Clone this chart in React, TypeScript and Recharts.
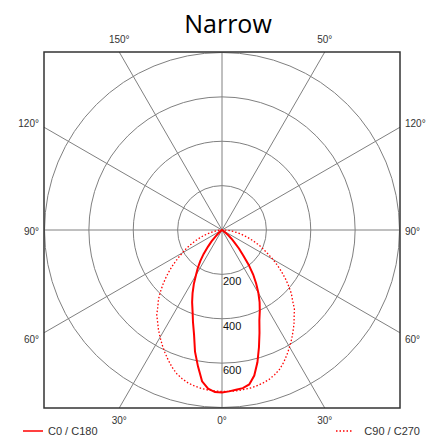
import React from 'react';
import {
  RadarChart,
  Radar,
  PolarGrid,
  PolarAngleAxis,
  PolarRadiusAxis,
  Legend,
  Customized
} from 'recharts';

// gamma angles, 0 = straight down, increasing towards the right
const gammaAngles = [
  0, 2.5, 5, 7.5, 10, 12.5, 15, 17.5, 20, 22.5, 25, 27.5,
  30, 32.5, 35, 37.5, 40, 42.5, 45, 47.5, 50, 52.5, 55, 57.5,
  60, 62.5, 65, 67.5, 70, 72.5, 75, 77.5, 80, 82.5, 85, 87.5,
  90, 92.5, 95, 97.5, 100, 102.5, 105, 107.5, 110, 112.5, 115, 117.5,
  120, 122.5, 125, 127.5, 130, 132.5, 135, 137.5, 140, 142.5, 145, 147.5,
  150, 152.5, 155, 157.5, 160, 162.5, 165, 167.5, 170, 172.5, 175, 177.5,
  180, 182.5, 185, 187.5, 190, 192.5, 195, 197.5, 200, 202.5, 205, 207.5,
  210, 212.5, 215, 217.5, 220, 222.5, 225, 227.5, 230, 232.5, 235, 237.5,
  240, 242.5, 245, 247.5, 250, 252.5, 255, 257.5, 260, 262.5, 265, 267.5,
  270, 272.5, 275, 277.5, 280, 282.5, 285, 287.5, 290, 292.5, 295, 297.5,
  300, 302.5, 305, 307.5, 310, 312.5, 315, 317.5, 320, 322.5, 325, 327.5,
  330, 332.5, 335, 337.5, 340, 342.5, 345, 347.5, 350, 352.5, 355, 357.5
];

// C0 / C180 intensity (cd)
const c0c180 = [
  728, 723, 719, 707, 672, 617, 554, 494, 440, 403, 367, 328,
  287, 245, 197, 148, 113, 80, 58, 37, 22, 10, 0, 0,
  0, 0, 0, 0, 0, 0, 0, 0, 0, 0, 0, 0,
  0, 0, 0, 0, 0, 0, 0, 0, 0, 0, 0, 0,
  0, 0, 0, 0, 0, 0, 0, 0, 0, 0, 0, 0,
  0, 0, 0, 0, 0, 0, 0, 0, 0, 0, 0, 0,
  0, 0, 0, 0, 0, 0, 0, 0, 0, 0, 0, 0,
  0, 0, 0, 0, 0, 0, 0, 0, 0, 0, 0, 0,
  0, 0, 0, 0, 0, 0, 0, 0, 0, 0, 0, 0,
  0, 0, 0, 0, 0, 0, 0, 0, 0, 0, 0, 0,
  0, 0, 0, 10, 22, 42, 70, 99, 136, 170, 203, 235,
  275, 314, 352, 388, 435, 487, 562, 624, 688, 718, 731, 732
];

// C90 / C270 intensity (cd)
const c90c270 = [
  728, 728, 726, 724, 720, 714, 706, 694, 679, 658, 634, 609,
  584, 558, 533, 506, 483, 450, 424, 392, 360, 328, 296, 265,
  234, 207, 182, 157, 133, 110, 90, 70, 52, 36, 22, 10,
  0, 0, 0, 0, 0, 0, 0, 0, 0, 0, 0, 0,
  0, 0, 0, 0, 0, 0, 0, 0, 0, 0, 0, 0,
  0, 0, 0, 0, 0, 0, 0, 0, 0, 0, 0, 0,
  0, 0, 0, 0, 0, 0, 0, 0, 0, 0, 0, 0,
  0, 0, 0, 0, 0, 0, 0, 0, 0, 0, 0, 0,
  0, 0, 0, 0, 0, 0, 0, 0, 0, 0, 0, 0,
  0, 10, 22, 36, 52, 70, 90, 110, 133, 157, 182, 207,
  234, 265, 296, 328, 360, 392, 424, 450, 483, 506, 533, 558,
  584, 609, 634, 658, 679, 694, 706, 714, 720, 724, 726, 728
];

const radiusTicks = [200, 400, 600];
const rayAngles = [0, 30, 60, 90, 120, 150, 180, 210, 240, 270, 300, 330];
const rayLabels = ['0°', '30°', '60°', '90°', '120°', '50°', '', '150°', '120°', '90°', '60°', '30°'];
const seriesNames = ['C0 / C180', 'C90 / C270'];

const data = gammaAngles.map((angle, i) => ({
  angle,
  c0: c0c180[i],
  c90: c90c270[i]
}));

const CX = 222;
const CY = 230;
const OUTER = 177.5;
const HALF = 178;
const LABEL_FONT = '"Liberation Sans", Arial, sans-serif';

const Frame = () => (
  <g>
    <text x={228} y={33} textAnchor="middle" fontSize={25} fontFamily='"Open Sans", sans-serif' fill="#000">
      Narrow
    </text>
    {rayAngles.map((deg, i) => {
      const s = Math.sin((deg * Math.PI) / 180);
      const c = Math.cos((deg * Math.PI) / 180);
      const t = HALF / Math.max(Math.abs(s), Math.abs(c));
      const x = CX + s * t;
      const y = CY + c * t;
      let lx = x;
      let ly = y;
      let anchor: 'start' | 'middle' | 'end' = 'middle';
      if (Math.abs(c) >= Math.abs(s) - 1e-6) {
        ly = c > 0 ? y + 16 : y - 9;
      } else {
        const dir = Math.abs(c) < 1e-6 ? 0 : Math.sign(c);
        anchor = s < 0 ? 'end' : 'start';
        lx = s < 0 ? x - 5 : x + 5;
        ly = y + 5 + dir * 5;
      }
      return (
        <g key={`ray-${deg}`}>
          <line x1={CX} y1={CY} x2={x} y2={y} stroke="#808080" strokeWidth={1} />
          {rayLabels[i] && (
            <text x={lx} y={ly} textAnchor={anchor} fontSize={10} fontFamily={LABEL_FONT} fill="#333">
              {rayLabels[i]}
            </text>
          )}
        </g>
      );
    })}
    <rect x={CX - HALF} y={CY - HALF} width={HALF * 2} height={HALF * 2} fill="none" stroke="#333" strokeWidth={1.5} />
  </g>
);

const RadiusTick = ({ x, y, payload }: any) => {
  if (!radiusTicks.includes(payload.value)) return <g />;
  return (
    <text x={x + 1} y={y + 11} textAnchor="start" fontSize={11} fontFamily={LABEL_FONT} fill="#111">
      {payload.value}
    </text>
  );
};

const LegendContent = ({ payload }: any) => {
  const items = payload || [];
  return (
    <div style={{ position: 'relative', width: 440, height: 14, fontFamily: LABEL_FONT, fontSize: 11, color: '#333' }}>
      {items.map((item: any, i: number) => {
        const left = i === 0;
        return (
          <div
            key={`leg-${i}`}
            style={{
              position: 'absolute',
              top: 0,
              left: left ? 23 : undefined,
              right: left ? undefined : 20,
              display: 'flex',
              alignItems: 'center',
              whiteSpace: 'nowrap'
            }}
          >
            <svg width={20} height={14} style={{ marginRight: left ? 5 : 8 }}>
              <line
                x1={0}
                y1={7}
                x2={left ? 20 : 17}
                y2={7}
                stroke="#ff0000"
                strokeWidth={1.5}
                strokeDasharray={left ? undefined : '1.5 2'}
              />
            </svg>
            <span>{item.value}</span>
          </div>
        );
      })}
    </div>
  );
};

export default function App() {
  return (
    <div style={{ position: 'absolute', left: 0, top: 0, width: 440, height: 437, background: '#fff' }}>
      <RadarChart
        width={440}
        height={437}
        data={data}
        cx={CX}
        cy={CY}
        outerRadius={OUTER}
        startAngle={-90}
        endAngle={270}
        margin={{ top: 0, right: 0, bottom: 0, left: 0 }}
      >
        <Customized component={<Frame />} />
        <PolarGrid gridType="circle" radialLines={false} stroke="#808080" />
        <PolarAngleAxis dataKey="angle" tick={false} axisLine={false} tickLine={false} />
        <PolarRadiusAxis
          angle={-90}
          domain={[0, 800]}
          tickCount={5}
          axisLine={false}
          tick={<RadiusTick />}
        />
        <Radar
          name={seriesNames[0]}
          dataKey="c0"
          stroke="#ff0000"
          strokeWidth={2}
          fill="none"
          fillOpacity={0}
          dot={false}
          isAnimationActive={false}
        />
        <Radar
          name={seriesNames[1]}
          dataKey="c90"
          stroke="#ff0000"
          strokeWidth={1.3}
          strokeDasharray="1.5 2"
          fill="none"
          fillOpacity={0}
          dot={false}
          isAnimationActive={false}
        />
        <Legend
          verticalAlign="bottom"
          content={<LegendContent />}
          wrapperStyle={{ position: 'absolute', left: 0, top: 424, width: 440, height: 14 }}
        />
      </RadarChart>
    </div>
  );
}
